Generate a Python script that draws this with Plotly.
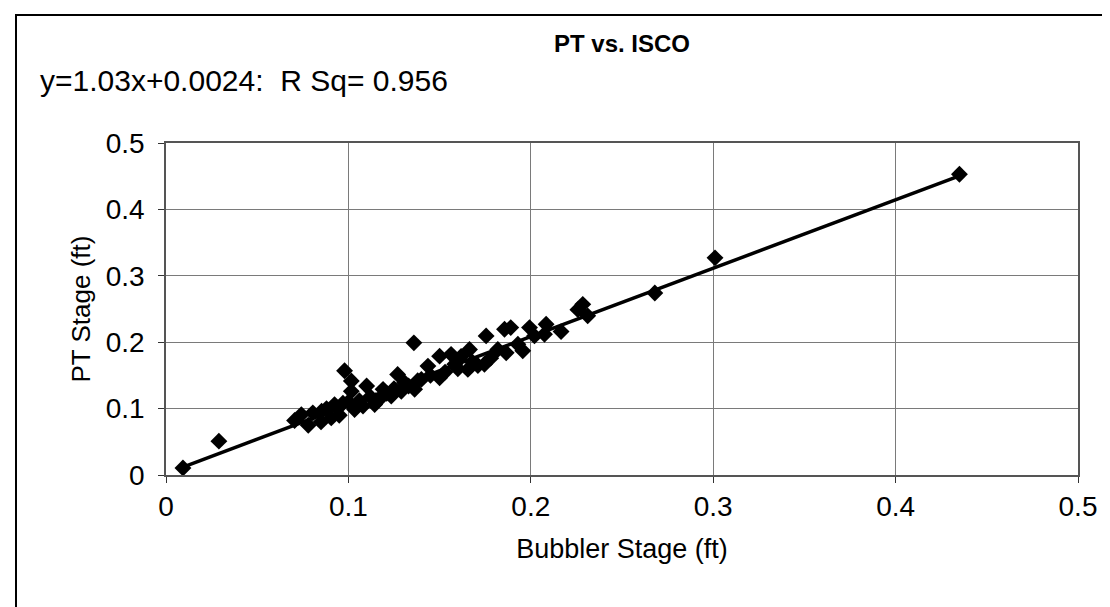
import numpy as np
import plotly.graph_objects as go

bubbler_stage = [
    0.0093, 0.029, 0.0705, 0.0742, 0.078, 0.0805, 0.0853, 0.0906, 0.0924, 0.095,
    0.0979, 0.1016, 0.1034, 0.110, 0.1016, 0.1144, 0.119, 0.1235, 0.127, 0.1308,
    0.1359, 0.1363, 0.1400, 0.1436, 0.150, 0.150, 0.1563, 0.1583, 0.1618, 0.1655,
    0.1664, 0.1746, 0.1755, 0.178, 0.1819, 0.1856, 0.1865, 0.189, 0.1929, 0.1956,
    0.1993, 0.202, 0.2075, 0.2084, 0.2166, 0.2258, 0.2285, 0.2312, 0.268, 0.301,
    0.435, 0.088, 0.097, 0.106, 0.112, 0.117, 0.121, 0.125, 0.133, 0.138,
    0.145, 0.153, 0.160, 0.168, 0.171, 0.085, 0.100, 0.108, 0.115, 0.129,
]
pt_stage = [
    0.0106, 0.051, 0.082, 0.091, 0.075, 0.0936, 0.096, 0.086, 0.106, 0.090,
    0.157, 0.1415, 0.0987, 0.134, 0.126, 0.106, 0.129, 0.119, 0.1515, 0.139,
    0.199, 0.129, 0.144, 0.164, 0.179, 0.1465, 0.1817, 0.1667, 0.1785, 0.159,
    0.189, 0.1667, 0.2095, 0.176, 0.189, 0.2195, 0.184, 0.222, 0.197, 0.187,
    0.222, 0.2095, 0.212, 0.227, 0.216, 0.249, 0.257, 0.2397, 0.274, 0.327,
    0.453, 0.100, 0.108, 0.112, 0.118, 0.114, 0.123, 0.130, 0.134, 0.142,
    0.150, 0.155, 0.160, 0.170, 0.165, 0.080, 0.110, 0.104, 0.112, 0.126,
]
slope = 1.03
intercept = 0.0024
r_sq = 0.956
x_ticks = [0, 0.1, 0.2, 0.3, 0.4, 0.5]
y_ticks = [0, 0.1, 0.2, 0.3, 0.4, 0.5]

FONT = "Liberation Sans, Arial, sans-serif"

line_x = [min(bubbler_stage), max(bubbler_stage)]
line_y = [slope * v + intercept for v in line_x]

fig = go.Figure()
fig.add_trace(go.Scatter(x=line_x, y=line_y, mode="lines",
                         line=dict(color="black", width=3.5), showlegend=False, hoverinfo="skip"))
fig.add_trace(go.Scatter(x=bubbler_stage, y=pt_stage, mode="markers",
                         marker=dict(symbol="diamond", size=13, color="black"),
                         showlegend=False))

axis_common = dict(
    range=[0, 0.5], showgrid=True, gridcolor="#7a7a7a", gridwidth=1,
    showline=True, linecolor="#555", linewidth=1.5, mirror=True,
    ticks="outside", ticklen=6, tickcolor="#333", zeroline=False,
    tickfont=dict(family=FONT, size=28, color="black"),
)
fig.update_xaxes(**axis_common, tickvals=x_ticks, ticktext=[f"{v:g}" for v in x_ticks],
                 title=dict(text="Bubbler Stage (ft)", font=dict(family=FONT, size=27, color="black"),
                            standoff=18))
fig.update_yaxes(**axis_common, tickvals=y_ticks, ticktext=[f"{v:g}" for v in y_ticks],
                 ticklabelstandoff=8,
                 title=dict(text="PT Stage (ft)", font=dict(family=FONT, size=26, color="black"),
                            standoff=8))

fig.update_layout(
    width=1110, height=607,
    margin=dict(l=158, r=40, t=135, b=140),
    plot_bgcolor="white", paper_bgcolor="white",
    font=dict(family=FONT, color="black"),
    title=dict(text="<b>PT vs. ISCO</b>", x=0.5, xref="paper", xanchor="center",
               y=1 - 36 / 607, yref="container", yanchor="middle",
               font=dict(family=FONT, size=24, color="black")),
    annotations=[dict(text=f"y={slope:g}x+{intercept:g}:  R Sq= {r_sq:g}",
                      xref="paper", yref="paper", x=(30 - 158) / 912, y=(467 - 72) / 332,
                      xanchor="left", yanchor="middle", showarrow=False,
                      font=dict(family=FONT, size=30, color="black"))],
    shapes=[dict(type="rect", xref="paper", yref="paper",
                 x0=(8 - 158) / 912, x1=1.2, y0=-0.6, y1=(467 - 7) / 332,
                 line=dict(color="black", width=2), fillcolor="rgba(0,0,0,0)", layer="below")],
)

fig.write_html("out.html")
